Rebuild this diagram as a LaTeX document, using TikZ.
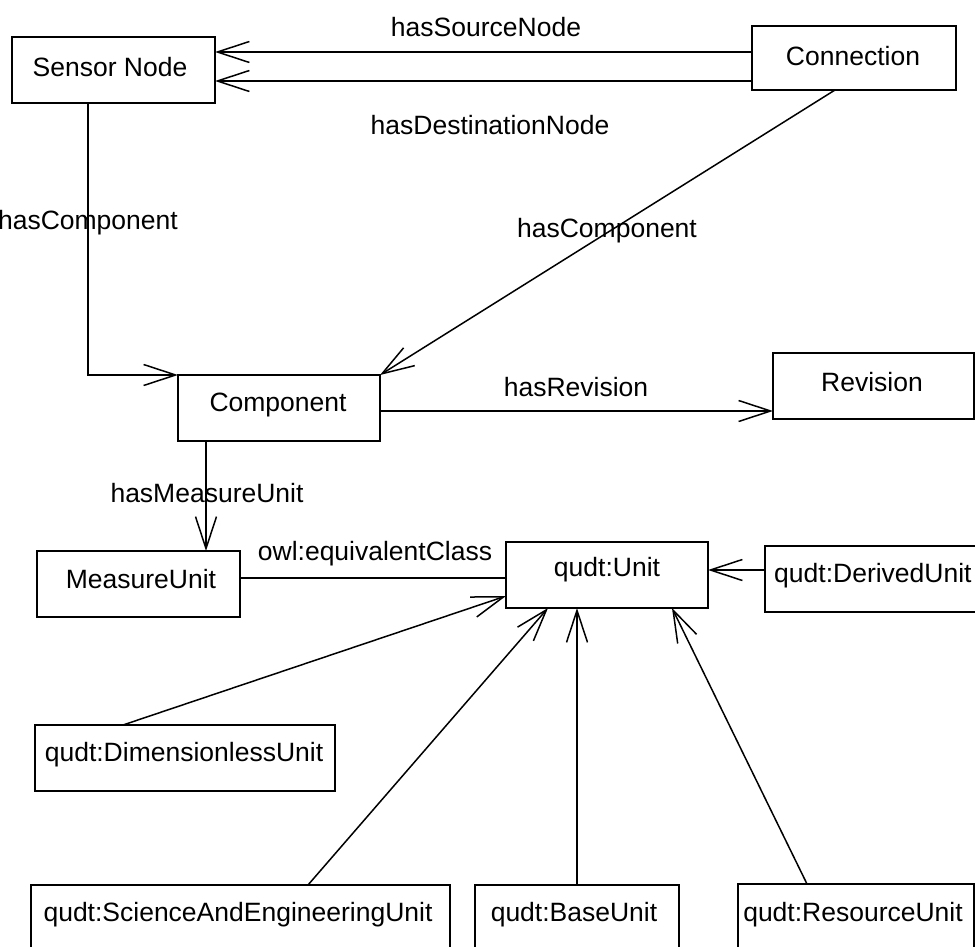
\documentclass[tikz,border=0pt]{standalone}
\usepackage{fontspec}
\setmainfont{Liberation Sans}
\usetikzlibrary{arrows.meta,calc}
\begin{document}
\begin{tikzpicture}[x=1pt,y=-1pt,
  box/.style={draw,line width=1.5pt,inner sep=0pt,outer sep=0pt,font=\fontsize{26.5}{30}\selectfont},
  lbl/.style={inner sep=0pt,font=\fontsize{26.5}{30}\selectfont},
  conn/.style={line width=1.5pt},
  arr/.style={conn,-{Straight Barb[length=32pt,width=21pt,line width=1.5pt]}}]
\useasboundingbox (0,0) rectangle (975,947);
% boxes
\node[box,minimum width=203pt,minimum height=66pt] (sensor) at (113.5,70) {};
\node[lbl] (sensorT) at (110,67) {Sensor Node};
\node[box,minimum width=204pt,minimum height=64pt] (conn) at (854,58) {};
\node[lbl] (connT) at (853,56) {Connection};
\node[box,minimum width=202pt,minimum height=66pt] (comp) at (279,408) {};
\node[lbl] (compT) at (278,405) {Component};
\node[box,minimum width=201pt,minimum height=66pt] (rev) at (873.5,386) {};
\node[lbl] (revT) at (872,382) {Revision};
\node[box,minimum width=203pt,minimum height=66pt] (mu) at (138.5,584) {};
\node[lbl] (muT) at (141,579) {MeasureUnit};
\node[box,minimum width=202pt,minimum height=66pt] (unit) at (607,575) {};
\node[lbl] (unitT) at (607,570) {qudt:Unit};
\node[box,minimum width=225pt,minimum height=66pt] (derived) at (877.5,579) {};
\node[lbl,anchor=west] (derivedT) at (774,576) {qudt:DerivedUnit};
\node[box,minimum width=300pt,minimum height=66pt] (dimless) at (185,758) {};
\node[lbl] (dimlessT) at (184,755) {qudt:DimensionlessUnit};
\node[box,minimum width=419pt,minimum height=66pt] (seu) at (240.5,918) {};
\node[lbl] (seuT) at (238,915) {qudt:ScienceAndEngineeringUnit};
\node[box,minimum width=204pt,minimum height=66pt] (base) at (577,918) {};
\node[lbl] (baseT) at (574,915) {qudt:BaseUnit};
\node[box,minimum width=236pt,minimum height=66pt] (res) at (856,917) {};
\node[lbl] (resT) at (853,915) {qudt:ResourceUnit};
% helper coordinates
\coordinate (c1) at ($(conn.west)+(0,-6)$);
\coordinate (c2) at ($(conn.west)+(0,23)$);
\coordinate (k1) at ($(comp.east)+(0,3)$);
\coordinate (m1) at ($(mu.east)+(0,-6)$);
\coordinate (u1) at ($(unit.east)+(0,-5)$);
\coordinate (u2) at ($(unit.west)+(0,21)$);
% connectors
\draw[arr] (c1) -- (c1 -| sensor.east);
\draw[arr] (c2) -- (c2 -| sensor.east);
\draw[arr] ([xshift=-25.5pt]sensor.south) |- (comp.north west);
\draw[arr] ([xshift=-19pt]conn.south) -- (comp.north east);
\draw[arr] (k1) -- (k1 -| rev.west);
\draw[arr] ([xshift=-73pt]comp.south) -- ([xshift=-73pt]comp.south |- mu.north);
\draw[conn] (m1) -- (m1 -| unit.west);
\draw[arr] (u1 -| derived.west) -- (u1);
\draw[arr] ([xshift=-62pt]dimless.north) -- (u2);
\draw[arr] ([xshift=67.5pt]seu.north) -- ([xshift=-59pt]unit.south);
\draw[arr] (base.north) -- (base.north |- unit.south);
\draw[arr] ([xshift=-49pt]res.north) -- ([xshift=65pt]unit.south);
% labels
\node[lbl] (l1) at (486,27) {hasSourceNode};
\node[lbl] (l2) at (490,125) {hasDestinationNode};
\node[lbl,anchor=east] (l3) at (178,223) {hasComponent};
\node[lbl] (l4) at (607,231) {hasComponent};
\node[lbl] (l5) at (576,387) {hasRevision};
\node[lbl] (l6) at (207,493) {hasMeasureUnit};
\node[lbl] (l7) at (375,554) {owl:equivalentClass};
\end{tikzpicture}
\end{document}
